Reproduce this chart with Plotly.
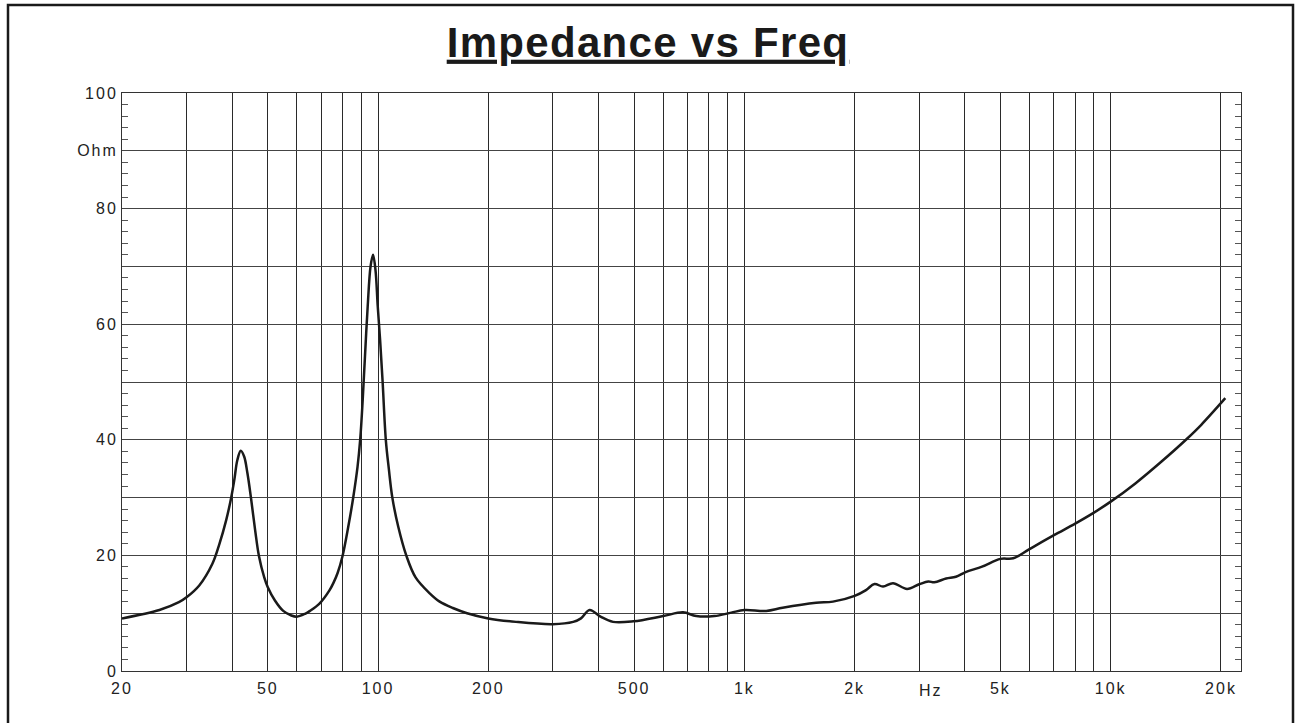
import math
import plotly.graph_objects as go

# ---- data ----
freq_hz = [20, 25.3, 28.6, 30, 32.5, 35.3, 36.9, 38.5, 39.7, 40.5, 41.3, 42.2, 43.1, 44.0,
           45.0, 46.2, 47.3, 48.9, 50, 52.3, 55.1, 58.0, 60, 63.2, 65.2, 69.3, 73.6, 75.5,
           77.6, 80, 82.9, 85.6, 87.9, 89.4, 90.8, 92.1, 93.7, 95.4, 96.9, 98.4, 99.8, 101.3,
           102.9, 105.0, 107.0, 109.4, 113.5, 119.4, 126.6, 138.6, 147.3, 160, 175,
           200, 238, 300, 341, 358, 378, 405, 438, 498, 600, 680, 739, 828, 921, 1000,
           1147, 1272, 1570, 1745, 2000, 2148, 2266, 2391, 2545, 2780, 3000, 3177, 3300,
           3554, 3780, 4017, 4455, 5000, 5420, 5985, 7000, 8000, 9000, 10000, 11700,
           13740, 16100, 17670, 20550]
impedance_ohm = [9.1, 10.55, 11.9, 12.75, 14.8, 18.55, 22.0, 26.1, 29.9, 33.0, 36.5, 38.1, 37.1,
                 34.2, 29.9, 24.3, 19.9, 16.2, 14.5, 12.2, 10.4, 9.6, 9.4, 9.9, 10.4, 11.7,
                 13.9, 15.2, 17.0, 19.9, 24.9, 30.1, 35.3, 40.1, 46.9, 54.4, 63.1, 70.0, 72.0, 69.4,
                 63.1, 57.3, 50.1, 40.0, 35.0, 30.0, 25.0, 20.0, 16.2, 13.4, 12.0, 10.9, 10.0,
                 9.1, 8.5, 8.1, 8.5, 9.1, 10.55, 9.4, 8.5, 8.6, 9.5, 10.15, 9.5, 9.5, 10.1,
                 10.55, 10.4, 10.95, 11.8, 12.0, 13.0, 14.0, 15.05, 14.6, 15.2, 14.2, 15.0,
                 15.5, 15.35, 16.0, 16.3, 17.1, 18.05, 19.4, 19.5, 21.05, 23.5, 25.5, 27.4,
                 29.3, 32.5, 36.2, 40.1, 42.6, 47.2]

x_grid_vals = [20, 30, 40, 50, 60, 70, 80, 90, 100, 200, 300, 400, 500, 600, 700, 800, 900,
               1000, 2000, 3000, 4000, 5000, 6000, 7000, 8000, 9000, 10000, 20000]
x_label_map = {20: "20", 50: "50", 100: "100", 200: "200", 500: "500", 1000: "1k",
               2000: "2k", 5000: "5k", 10000: "10k", 20000: "20k"}
x_unit_label = "Hz"
x_unit_pos = 3000

y_grid_vals = [0, 10, 20, 30, 40, 50, 60, 70, 80, 90, 100]
y_label_map = {0: "0", 20: "20", 40: "40", 60: "60", 80: "80", 90: "Ohm", 100: "100"}

title_text = "Impedance vs Freq"

# ---- figure ----
W, H = 1296, 723
ML, MR, MT, MB = 122, 55, 93, 52
pw, ph = W - ML - MR, H - MT - MB

def px_to_paper_x(px):
    return (px - ML) / pw

def px_to_paper_y(py):
    return (H - MB - py) / ph

fig = go.Figure()
fig.add_trace(go.Scatter(
    x=freq_hz, y=impedance_ohm, mode="lines",
    line=dict(color="#1a1a1a", width=2.5, shape="spline", smoothing=1.0),
    hoverinfo="skip", showlegend=False))

LBL = dict(family="Liberation Sans, Arial, sans-serif", size=16, color="#222")

fig.update_xaxes(
    type="log", range=[math.log10(20), 4.3557],
    tickmode="array", tickvals=x_grid_vals,
    ticktext=[x_label_map.get(v, "") for v in x_grid_vals],
    showgrid=True, gridcolor="#2a2a2a", gridwidth=1,
    ticks="", showline=True, linecolor="#333", linewidth=1, mirror=True,
    tickfont=LBL, zeroline=False, ticklabelstandoff=3)

fig.update_yaxes(
    range=[0, 100], tickmode="array", tickvals=y_grid_vals,
    ticktext=[y_label_map.get(v, "") for v in y_grid_vals],
    showgrid=True, gridcolor="#444", gridwidth=1,
    ticks="inside", ticklen=6, tickcolor="#444", tickwidth=1,
    minor=dict(tickmode="linear", tick0=0, dtick=2, ticks="inside", ticklen=6,
               tickcolor="#555", tickwidth=1, showgrid=False),
    showline=True, linecolor="#333", linewidth=1, mirror="ticks",
    tickfont=LBL, zeroline=False)

fig.add_annotation(
    x=math.log10(x_unit_pos), xref="x", xanchor="left",
    y=0, yref="paper", yanchor="top", yshift=-9,
    text=x_unit_label, showarrow=False, font=LBL)

# outer frame
fig.add_shape(type="rect", xref="paper", yref="paper",
              x0=px_to_paper_x(8), x1=px_to_paper_x(1293),
              y0=px_to_paper_y(730), y1=px_to_paper_y(5),
              line=dict(color="#1a1a1a", width=2.5), fillcolor="rgba(0,0,0,0)")

fig.update_layout(
    width=W, height=H,
    margin=dict(l=ML, r=MR, t=MT, b=MB),
    paper_bgcolor="white", plot_bgcolor="white",
    title=dict(text="<b>" + title_text + "</b>", xref="container", x=0.5, xanchor="center",
               yref="container", y=1 - 42 / H, yanchor="middle",
               font=dict(family="Liberation Sans, Arial, sans-serif", size=42,
                         color="#1a1a1a", lineposition="under")),
)

post = """
document.body.style.margin = '0';
document.body.style.overflow = 'hidden';
var gd = document.getElementById('{plot_id}');
function ls(){
  gd.querySelectorAll('.xtick text, .ytick text, .annotation-text').forEach(function(t){ t.style.letterSpacing='2px'; });
  gd.querySelectorAll('.gtitle').forEach(function(t){ t.style.letterSpacing='1.3px'; });
}
ls();
gd.on('plotly_afterplot', ls);
"""
fig.write_html("out.html", post_script=post, config={"displayModeBar": False})
